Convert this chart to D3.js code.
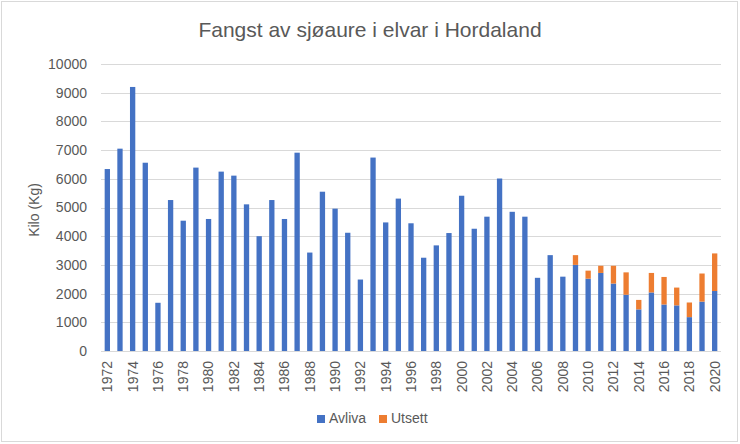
<!DOCTYPE html>
<html><head><meta charset="utf-8">
<script src="https://cdn.jsdelivr.net/npm/d3@7"></script>
<style>
html,body{margin:0;padding:0;background:#fff;}
text{font-family:"Liberation Sans",Arial,sans-serif;fill:#595959;}
</style></head>
<body>
<svg id="chart" width="740" height="444"></svg>
<script>
const years = d3.range(1972, 2021).map(String);
const avliva = [6340,7050,9200,6560,1680,5260,4540,6390,4600,6250,
6110,5110,4000,5260,4600,6910,3430,5550,4960,4120,
2490,6740,4480,5310,4450,3250,3680,4110,5410,4260,
4680,6010,4850,4680,2550,3340,2590,3000,2520,2720,
2350,1960,1450,2040,1620,1590,1180,1720,2090];
const utsett = [0,0,0,0,0,0,0,0,0,0,
0,0,0,0,0,0,0,0,0,0,
0,0,0,0,0,0,0,0,0,0,
0,0,0,0,0,0,0,340,280,250,
620,780,330,680,960,620,510,980,1310];
const yTicks = [0,1000,2000,3000,4000,5000,6000,7000,8000,9000,10000];
const seriesNames = ["Avliva","Utsett"];
const colors = ["#4472C4","#ED7D31"];

const svg = d3.select("#chart");
svg.append("rect").attr("x",1.5).attr("y",1.5).attr("width",736).attr("height",440)
  .attr("fill","#fff").attr("stroke","#d9d9d9").attr("stroke-width",1);

const pLeft=101, pRight=721, pTop=64, pBottom=351;
const x = d3.scaleBand().domain(years).range([pLeft,pRight]).paddingInner(0.58).paddingOuter(0.29);
const y = d3.scaleLinear().domain([0,10000]).range([pBottom,pTop]);

// gridlines
svg.append("g").selectAll("line").data(yTicks.slice(1)).join("line")
  .attr("x1",pLeft).attr("x2",pRight).attr("y1",d=>Math.round(y(d))+0.5).attr("y2",d=>Math.round(y(d))+0.5)
  .attr("stroke","#d9d9d9").attr("stroke-width",1);

// y axis labels
const ya = svg.append("g").attr("transform",`translate(${pLeft},0)`)
  .call(d3.axisLeft(y).tickValues(yTicks).tickSize(0).tickPadding(14).tickFormat(d3.format("d")));
ya.select(".domain").remove();
ya.selectAll("text").style("font-size","14px").attr("fill","#595959");

// stacked data
const rows = years.map((yr,i)=>({year:yr,Avliva:avliva[i],Utsett:utsett[i]}));
const stack = d3.stack().keys(seriesNames)(rows);
svg.append("g").selectAll("g").data(stack).join("g").attr("fill",(d,i)=>colors[i])
  .selectAll("rect").data(d=>d.filter(p=>p[1]-p[0]>0)).join("rect")
  .attr("x",d=>x(d.data.year)).attr("width",x.bandwidth())
  .attr("y",d=>y(d[1])).attr("height",d=>y(d[0])-y(d[1]));

// x axis line
svg.append("line").attr("x1",pLeft).attr("x2",pRight).attr("y1",pBottom+0.5).attr("y2",pBottom+0.5)
  .attr("stroke","#d9d9d9").attr("stroke-width",1);

// x labels
const xa = svg.append("g").attr("transform",`translate(0,${pBottom})`)
  .call(d3.axisBottom(x).tickValues(years.filter((d,i)=>i%2===0)).tickSize(0).tickPadding(0));
xa.select(".domain").remove();
xa.selectAll("text").style("font-size","14px").attr("fill","#595959")
  .attr("transform","rotate(-90)").attr("text-anchor","end")
  .attr("x",-10).attr("y",0).attr("dy","0.35em");

// title
svg.append("text").attr("x",370).attr("y",37).attr("text-anchor","middle")
  .style("font-size","21px").text("Fangst av sjøaure i elvar i Hordaland");

// y axis title
svg.append("text").attr("transform","translate(39,210) rotate(-90)").attr("text-anchor","middle")
  .style("font-size","14px").text("Kilo (Kg)");

// legend
const lg = svg.append("g");
const legendX = [317,379];
seriesNames.forEach((n,i)=>{
  lg.append("rect").attr("x",legendX[i]).attr("y",415).attr("width",8).attr("height",8).attr("fill",colors[i]);
  lg.append("text").attr("x",legendX[i]+12).attr("y",423).style("font-size","14px").text(n);
});
</script>
</body></html>
